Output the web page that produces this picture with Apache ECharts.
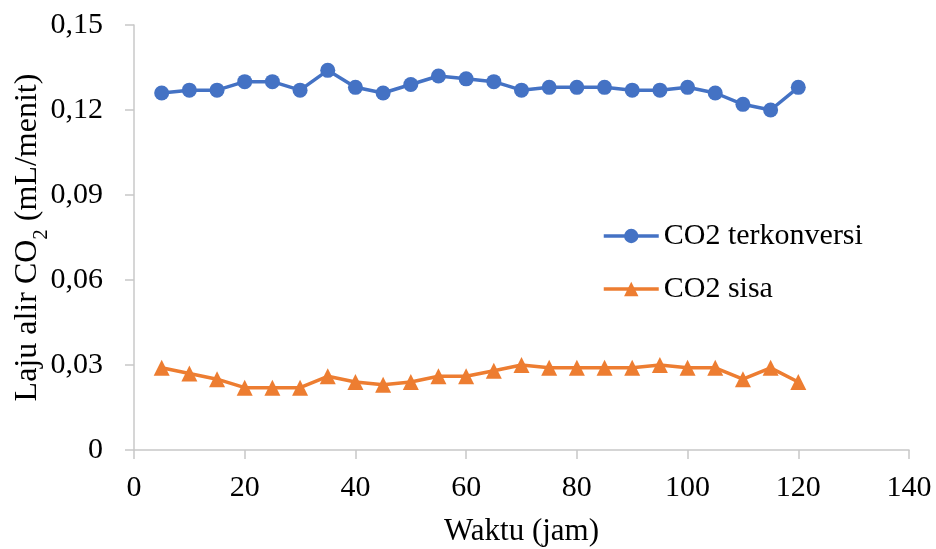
<!DOCTYPE html>
<html>
<head>
<meta charset="utf-8">
<script src="https://cdn.jsdelivr.net/npm/echarts@6/dist/echarts.min.js"></script>
<style>
  html, body { margin: 0; padding: 0; background: #fff; }
  #chart { width: 936px; height: 549px; }
</style>
</head>
<body>
<div id="chart"></div>
<script>
// Sampling times (jam)
const waktu = [5, 10, 15, 20, 25, 30, 35, 40, 45, 50, 55, 60, 65, 70, 75, 80, 85, 90, 95, 100, 105, 110, 115, 120];
// CO2 flow rates (mL/menit)
const co2Terkonversi = [0.126, 0.127, 0.127, 0.130, 0.130, 0.127, 0.134, 0.128, 0.126, 0.129, 0.132, 0.131, 0.130, 0.127, 0.128, 0.128, 0.128, 0.127, 0.127, 0.128, 0.126, 0.122, 0.120, 0.128];
const co2Sisa = [0.029, 0.027, 0.025, 0.022, 0.022, 0.022, 0.026, 0.024, 0.023, 0.024, 0.026, 0.026, 0.028, 0.030, 0.029, 0.029, 0.029, 0.029, 0.030, 0.029, 0.029, 0.025, 0.029, 0.024];
const seriesNames = ['CO2 terkonversi', 'CO2 sisa'];

const FONT = '"Liberation Serif", "Times New Roman", serif';
const AXIS_GRAY = '#c8c8c8';
const BLUE = '#4472C4';
const ORANGE = '#ED7D31';

const chart = echarts.init(document.getElementById('chart'), null, { renderer: 'canvas' });

const pairs = (ys) => waktu.map((x, i) => [x, ys[i]]);

chart.setOption({
  animation: false,
  backgroundColor: '#fff',
  textStyle: { fontFamily: FONT, color: '#000' },
  grid: { left: 134, right: 27, top: 25, bottom: 99, containLabel: false, outerBoundsMode: 'none' },
  legend: {
    orient: 'vertical',
    left: 597,
    top: 216,
    itemWidth: 55,
    itemHeight: 18,
    itemGap: 23,
    lineStyle: { width: 3.5 },
    textStyle: { fontFamily: FONT, fontSize: 30, color: '#000', padding: [0, 0, 0, 0] },
    data: seriesNames
  },
  xAxis: {
    type: 'value',
    min: 0, max: 140, interval: 20,
    name: 'Waktu (jam)',
    nameLocation: 'middle',
    nameGap: 66,
    nameMoveOverlap: false,
    nameTextStyle: { fontFamily: FONT, fontSize: 31, color: '#000' },
    axisLine: { show: true, lineStyle: { color: AXIS_GRAY, width: 1.5 } },
    axisTick: { show: true, length: 9, lineStyle: { color: AXIS_GRAY, width: 1.5 } },
    axisLabel: { fontFamily: FONT, fontSize: 30, color: '#000', margin: 23 },
    splitLine: { show: false }
  },
  yAxis: {
    type: 'value',
    min: 0, max: 0.15, interval: 0.03,
    name: '{a|Laju alir CO}{s|2}{a| (mL/menit)}',
    nameLocation: 'middle',
    nameGap: 90,
    nameMoveOverlap: false,
    nameTextStyle: {
      fontFamily: FONT, fontSize: 32, color: '#000',
      rich: {
        a: { fontFamily: FONT, fontSize: 32, color: '#000', lineHeight: 36, verticalAlign: 'bottom' },
        s: { fontFamily: FONT, fontSize: 21, color: '#000', lineHeight: 36, verticalAlign: 'bottom', padding: [0, 0, -8, 0] }
      }
    },
    axisLine: { show: true, lineStyle: { color: AXIS_GRAY, width: 1.5 } },
    axisTick: { show: true, length: 9, lineStyle: { color: AXIS_GRAY, width: 1.5 } },
    axisLabel: {
      fontFamily: FONT, fontSize: 30, color: '#000', margin: 31,
      formatter: (v) => v === 0 ? '0' : v.toFixed(2).replace('.', ',')
    },
    splitLine: { show: false }
  },
  series: [
    {
      name: seriesNames[0],
      type: 'line',
      data: pairs(co2Terkonversi),
      color: BLUE,
      symbol: 'circle',
      symbolSize: 15,
      lineStyle: { width: 3.5, color: BLUE },
      itemStyle: { color: BLUE }
    },
    {
      name: seriesNames[1],
      type: 'line',
      data: pairs(co2Sisa),
      color: ORANGE,
      symbol: 'triangle',
      symbolSize: 16,
      lineStyle: { width: 3.5, color: ORANGE },
      itemStyle: { color: ORANGE }
    }
  ]
});
</script>
</body>
</html>
